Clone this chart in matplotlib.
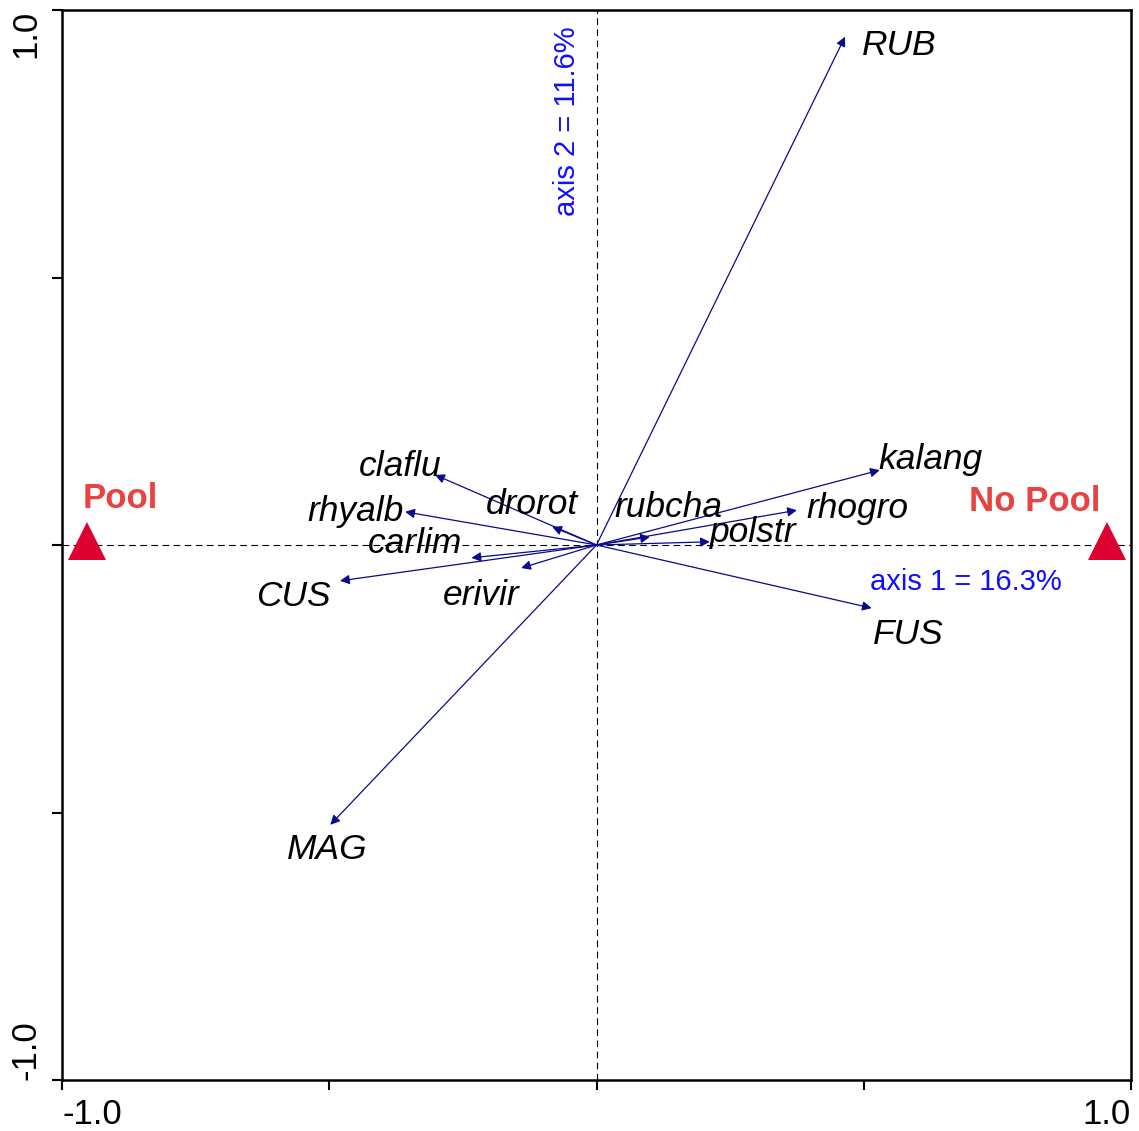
import matplotlib
matplotlib.use("Agg")
import matplotlib.pyplot as plt

plt.rcParams['font.family'] = ['Liberation Sans', 'DejaVu Sans']

# species arrows (axis1, axis2 scores)
species = ["RUB", "kalang", "rhogro", "polstr", "rubcha", "FUS", "MAG",
           "CUS", "erivir", "carlim", "rhyalb", "claflu", "drorot"]
ax1_scores = [0.465, 0.530, 0.375, 0.212, 0.100, 0.515, -0.498,
              -0.480, -0.141, -0.234, -0.358, -0.302, -0.083]
ax2_scores = [0.950, 0.140, 0.065, 0.006, 0.015, -0.118, -0.523,
              -0.067, -0.043, -0.024, 0.062, 0.131, 0.034]
# label anchor positions (left edge, vertical centre) in axis units
label_x = [0.497, 0.527, 0.392, 0.212, 0.033, 0.517, -0.579,
           -0.637, -0.287, -0.427, -0.540, -0.444, -0.207]
label_y = [0.934, 0.160, 0.069, 0.024, 0.071, -0.167, -0.570,
           -0.097, -0.094, 0.003, 0.063, 0.146, 0.075]

# environmental classes (centroids)
classes = ["Pool", "No Pool"]
class_x = [-0.954, 0.955]
class_y = [0.007, 0.007]
class_label_x = [-0.961, 0.943]
class_label_y = [0.086, 0.082]

eig_label1 = "axis 1 = 16.3%"
eig_label2 = "axis 2 = 11.6%"

fig = plt.figure(figsize=(11.39, 11.31), dpi=100)
ax = fig.add_axes([62/1139, 51/1131, (1131-62)/1139, (1080-10)/1131])
ax.set_xlim(-1, 1)
ax.set_ylim(-1, 1)

ax.axhline(0, color='black', lw=0.8, ls=(0, (6, 4)), zorder=1)
ax.axvline(0, color='black', lw=0.8, ls=(0, (6, 4)), zorder=1)

for name, x, y, lx, ly in zip(species, ax1_scores, ax2_scores, label_x, label_y):
    ax.annotate("", xy=(x, y), xytext=(0, 0),
                arrowprops=dict(arrowstyle='-|>', color='#0a0a8c', lw=0.9,
                                mutation_scale=14, shrinkA=0, shrinkB=0),
                zorder=3)
    ax.text(lx, ly, name, fontsize=25.5, style='italic', color='black',
            ha='left', va='center', zorder=4)

ax.plot(class_x, class_y, ls='none', marker='^', ms=27, color='#dc0030',
        markeredgewidth=0, zorder=5)
ax.text(class_label_x[0], class_label_y[0], classes[0], fontsize=25,
        fontweight='bold', color='#e84242', ha='left', va='center')
ax.text(class_label_x[1], class_label_y[1], classes[1], fontsize=25,
        fontweight='bold', color='#e84242', ha='right', va='center')

ax.text(0.512, -0.069, eig_label1, fontsize=21, color='#1010ff',
        ha='left', va='center')
ax.text(-0.055, 0.792, eig_label2, fontsize=21, color='#1010ff',
        ha='center', va='center', rotation=90)

ticks = [-1, -0.5, 0, 0.5, 1]
tick_labels = ["-1.0", "", "", "", "1.0"]
ax.set_xticks(ticks)
ax.set_xticklabels(tick_labels, fontsize=25)
ax.set_yticks(ticks)
ax.set_yticklabels(tick_labels, fontsize=25, rotation=90, va='center')
ax.tick_params(direction='out', length=7, width=1.5)
ax.tick_params(axis='x', pad=6)
ax.tick_params(axis='y', pad=7)
xl = ax.get_xticklabels()
xl[0].set_ha('left')
xl[-1].set_ha('right')
yl = ax.get_yticklabels()
yl[0].set_va('bottom')
yl[-1].set_va('top')
for s in ax.spines.values():
    s.set_linewidth(1.8)

fig.savefig("out.png", dpi=100)
